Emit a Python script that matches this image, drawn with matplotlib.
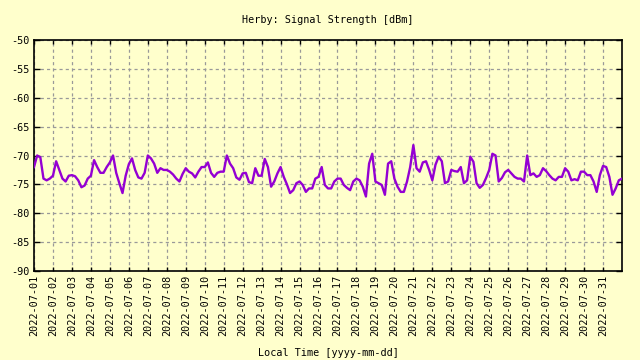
import numpy as np
import pandas as pd
import matplotlib
matplotlib.use("Agg")
import matplotlib.pyplot as plt
import matplotlib.dates as mdates

# signal strength, one reading every 4 hours, from 2022-07-01 00:00
signal_dbm = [
    -72.0, -70.0, -70.3, -74.0, -74.3, -74.0,   # 07-01
    -73.5, -71.0, -72.5, -74.0, -74.5, -73.5,   # 07-02
    -73.4, -73.6, -74.3, -75.5, -75.2, -74.0,   # 07-03
    -73.5, -70.8, -72.0, -73.0, -73.0, -72.0,   # 07-04
    -71.2, -70.0, -73.0, -74.8, -76.5, -73.5,   # 07-05
    -71.5, -70.5, -72.5, -73.8, -74.0, -73.0,   # 07-06
    -70.0, -70.5, -71.4, -73.0, -72.2, -72.5,   # 07-07
    -72.5, -72.8, -73.3, -74.0, -74.5, -73.2,   # 07-08
    -72.2, -72.8, -73.1, -73.8, -72.8, -72.0,   # 07-09
    -72.0, -71.2, -73.0, -73.7, -73.0, -72.8,   # 07-10
    -72.8, -70.0, -71.4, -72.2, -73.8, -74.2,   # 07-11
    -73.1, -73.0, -74.6, -74.8, -72.2, -73.5,   # 07-12
    -73.5, -70.6, -72.0, -75.4, -74.5, -73.1,   # 07-13
    -72.0, -73.7, -75.0, -76.5, -76.0, -74.8,   # 07-14
    -74.5, -75.1, -76.3, -75.7, -75.7, -74.0,   # 07-15
    -73.7, -72.0, -75.1, -75.7, -75.7, -74.5,   # 07-16
    -74.0, -74.0, -75.1, -75.6, -76.0, -74.5,   # 07-17
    -74.0, -74.3, -75.4, -77.1, -71.4, -69.7,   # 07-18
    -74.5, -74.8, -75.1, -76.8, -71.4, -71.0,   # 07-19
    -74.0, -75.4, -76.3, -76.3, -74.5, -72.0,   # 07-20
    -68.2, -72.2, -72.8, -71.2, -71.0, -72.5,   # 07-21
    -74.3, -71.6, -70.2, -71.0, -74.8, -74.5,   # 07-22
    -72.5, -72.7, -72.8, -72.0, -74.8, -74.3,   # 07-23
    -70.2, -71.1, -74.8, -75.6, -75.1, -73.9,   # 07-24
    -72.5, -69.7, -70.0, -74.5, -73.9, -72.9,   # 07-25
    -72.5, -73.1, -73.7, -74.0, -74.0, -74.5,   # 07-26
    -70.0, -73.4, -73.1, -73.7, -73.4, -72.2,   # 07-27
    -72.7, -73.4, -74.0, -74.3, -73.7, -73.7,   # 07-28
    -72.2, -72.8, -74.3, -74.1, -74.3, -72.8,   # 07-29
    -72.8, -73.4, -73.4, -74.5, -76.3, -73.4,   # 07-30
    -71.8, -72.0, -73.7, -76.8, -75.7, -74.3,   # 07-31
    -74.0,                                      # 08-01 00:00
]
times = pd.date_range("2022-07-01", periods=len(signal_dbm), freq="4h")

day_ticks = pd.date_range("2022-07-01", "2022-07-31", freq="D")
y_ticks = [-90, -85, -80, -75, -70, -65, -60, -55, -50]

bg = "#ffffcc"
font = "DejaVu Sans Mono"
fs = 7.3

fig = plt.figure(figsize=(6.4, 3.6), dpi=100, facecolor=bg)
ax = fig.add_axes([34 / 640, 1 - 271 / 360, 588 / 640, 231 / 360])
ax.set_facecolor(bg)

ax.plot(times, signal_dbm, color="#9400d3", linewidth=1.7, zorder=3)

ax.set_xlim(pd.Timestamp("2022-07-01"), pd.Timestamp("2022-08-01"))
ax.set_ylim(-90, -50)
ax.set_yticks(y_ticks)
ax.set_yticklabels([str(v) for v in y_ticks], fontfamily=font, fontsize=fs)
ax.set_xticks(day_ticks)
ax.xaxis.set_major_formatter(mdates.DateFormatter("%Y-%m-%d"))
for lbl in ax.get_xticklabels():
    lbl.set_rotation(90)
    lbl.set_fontfamily(font)
    lbl.set_fontsize(fs)

ax.grid(True, color="#999999", linestyle=(0, (2.5, 2.5)), linewidth=0.9, zorder=1)
ax.tick_params(axis="both", direction="in", top=True, right=True,
               length=4, width=1, pad=3, colors="black")
ax.tick_params(axis="x", length=3)
for s in ax.spines.values():
    s.set_linewidth(1.2)

ax.set_title("Herby: Signal Strength [dBm]", fontfamily=font, fontsize=fs, pad=12)
ax.set_xlabel("Local Time [yyyy-mm-dd]", fontfamily=font, fontsize=fs, labelpad=8)

fig.savefig("out.png", dpi=100, facecolor=bg)
